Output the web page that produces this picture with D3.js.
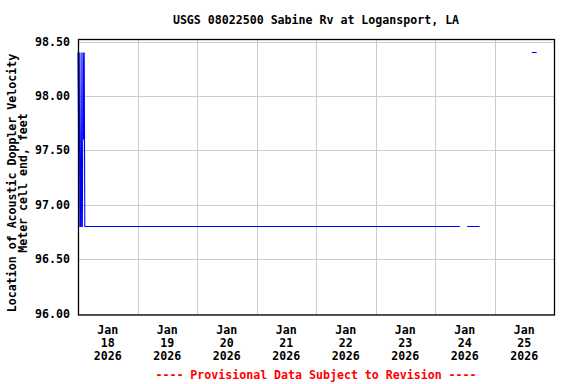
<!DOCTYPE html>
<html><head><meta charset="utf-8">
<script src="https://cdn.jsdelivr.net/npm/d3@7"></script>
<style>body{margin:0;background:#fff}svg{display:block}text{font-family:"DejaVu Sans Mono",monospace;font-weight:bold;font-size:11.6px}</style>
</head><body>
<script>
const title = "USGS 08022500 Sabine Rv at Logansport, LA";
const yLabel = ["Location of Acoustic Doppler Velocity", "Meter cell end, feet"];
const footer = "---- Provisional Data Subject to Revision ----";
const yTicks = [96.0, 96.5, 97.0, 97.5, 98.0, 98.5];
const xTickDays = ["2026-01-18","2026-01-19","2026-01-20","2026-01-21","2026-01-22","2026-01-23","2026-01-24","2026-01-25"];
// observation times (local) and values; null = gap
const times = [
 "2026-01-18T00:00","2026-01-18T00:15","2026-01-18T00:30","2026-01-18T00:45",
 "2026-01-18T01:00","2026-01-18T01:15","2026-01-18T01:30","2026-01-18T01:45",
 "2026-01-18T02:00","2026-01-18T02:15","2026-01-18T02:30","2026-01-18T02:45",
 "2026-01-24T10:00","2026-01-24T11:30",
 "2026-01-24T13:00","2026-01-24T18:00","2026-01-24T19:00",
 "2026-01-25T15:00","2026-01-25T17:00"];
const values = [
 98.4, 97.6, 98.4, 96.8,
 96.8, 98.4, 96.8, 96.8,
 98.4, 97.6, 98.4, 96.8,
 96.8, null,
 96.8, 96.8, null,
 98.4, 98.4];

const W = 576, H = 384;
const m = {l:78, r:554, t:40, b:315};
const parse = d3.timeParse("%Y-%m-%dT%H:%M");
const parseDay = d3.timeParse("%Y-%m-%d");
const x = d3.scaleTime().domain([parseDay("2026-01-18"), parseDay("2026-01-26")]).range([m.l, m.r]);
const y = d3.scaleLinear().domain([96, 98.5]).range([313.5, 41.6]);

const svg = d3.select("body").append("svg").attr("width", W).attr("height", H);

// grid
const gridDays = d3.timeDay.range(parseDay("2026-01-19"), parseDay("2026-01-26"));
svg.append("g").selectAll("line").data(gridDays).join("line")
  .attr("x1", d => Math.round(x(d)) + 0.5).attr("x2", d => Math.round(x(d)) + 0.5)
  .attr("y1", m.t).attr("y2", m.b).attr("stroke", "#cccccc").attr("stroke-width", 1);
svg.append("g").selectAll("line").data(yTicks).join("line")
  .attr("x1", m.l).attr("x2", m.r)
  .attr("y1", d => Math.round(y(d)) + 0.5).attr("y2", d => Math.round(y(d)) + 0.5)
  .attr("stroke", "#cccccc").attr("stroke-width", 1);

// data
const data = times.map((t, i) => ({t: parse(t), v: values[i]}));
const line = d3.line().defined(d => d.v != null).x(d => x(d.t)).y(d => y(d.v));
svg.append("path").datum(data).attr("d", line).attr("fill", "none")
  .attr("stroke", "#0000ff").attr("stroke-width", 1.1);

// frame
svg.append("rect").attr("x", m.l + 0.5).attr("y", m.t - 0.5).attr("width", m.r - m.l).attr("height", m.b - m.t + 0.5)
  .attr("fill", "none").attr("stroke", "#000").attr("stroke-width", 1.3);

// y tick labels
svg.append("g").selectAll("text").data(yTicks).join("text")
  .attr("x", 70).attr("y", d => y(d)).attr("dy", "0.35em").attr("text-anchor", "end")
  .text(d => d3.format(".2f")(d));

// x tick labels at noon
const fmtMon = d3.timeFormat("%b"), fmtDay = d3.timeFormat("%d"), fmtYr = d3.timeFormat("%Y");
const xl = svg.append("g").selectAll("text").data(xTickDays.map(parseDay)).join("text")
  .attr("text-anchor", "middle")
  .attr("transform", d => `translate(${x(d3.timeHour.offset(d, 12))},0)`);
xl.append("tspan").attr("x", 0).attr("y", 334).text(d => fmtMon(d));
xl.append("tspan").attr("x", 0).attr("y", 347).text(d => fmtDay(d));
xl.append("tspan").attr("x", 0).attr("y", 360).text(d => fmtYr(d));

// title
svg.append("text").attr("x", (m.l + m.r) / 2).attr("y", 24).attr("text-anchor", "middle").text(title);

// y label
const yl = svg.append("text").attr("text-anchor", "middle")
  .attr("transform", `translate(0,183) rotate(-90)`);
yLabel.forEach((s, i) => yl.append("tspan").attr("x", 0).attr("y", 16 + i * 11).text(s));

// footer
svg.append("text").attr("x", (m.l + m.r) / 2).attr("y", 379).attr("text-anchor", "middle")
  .attr("fill", "#ff0000").text(footer);
</script>
</body></html>
